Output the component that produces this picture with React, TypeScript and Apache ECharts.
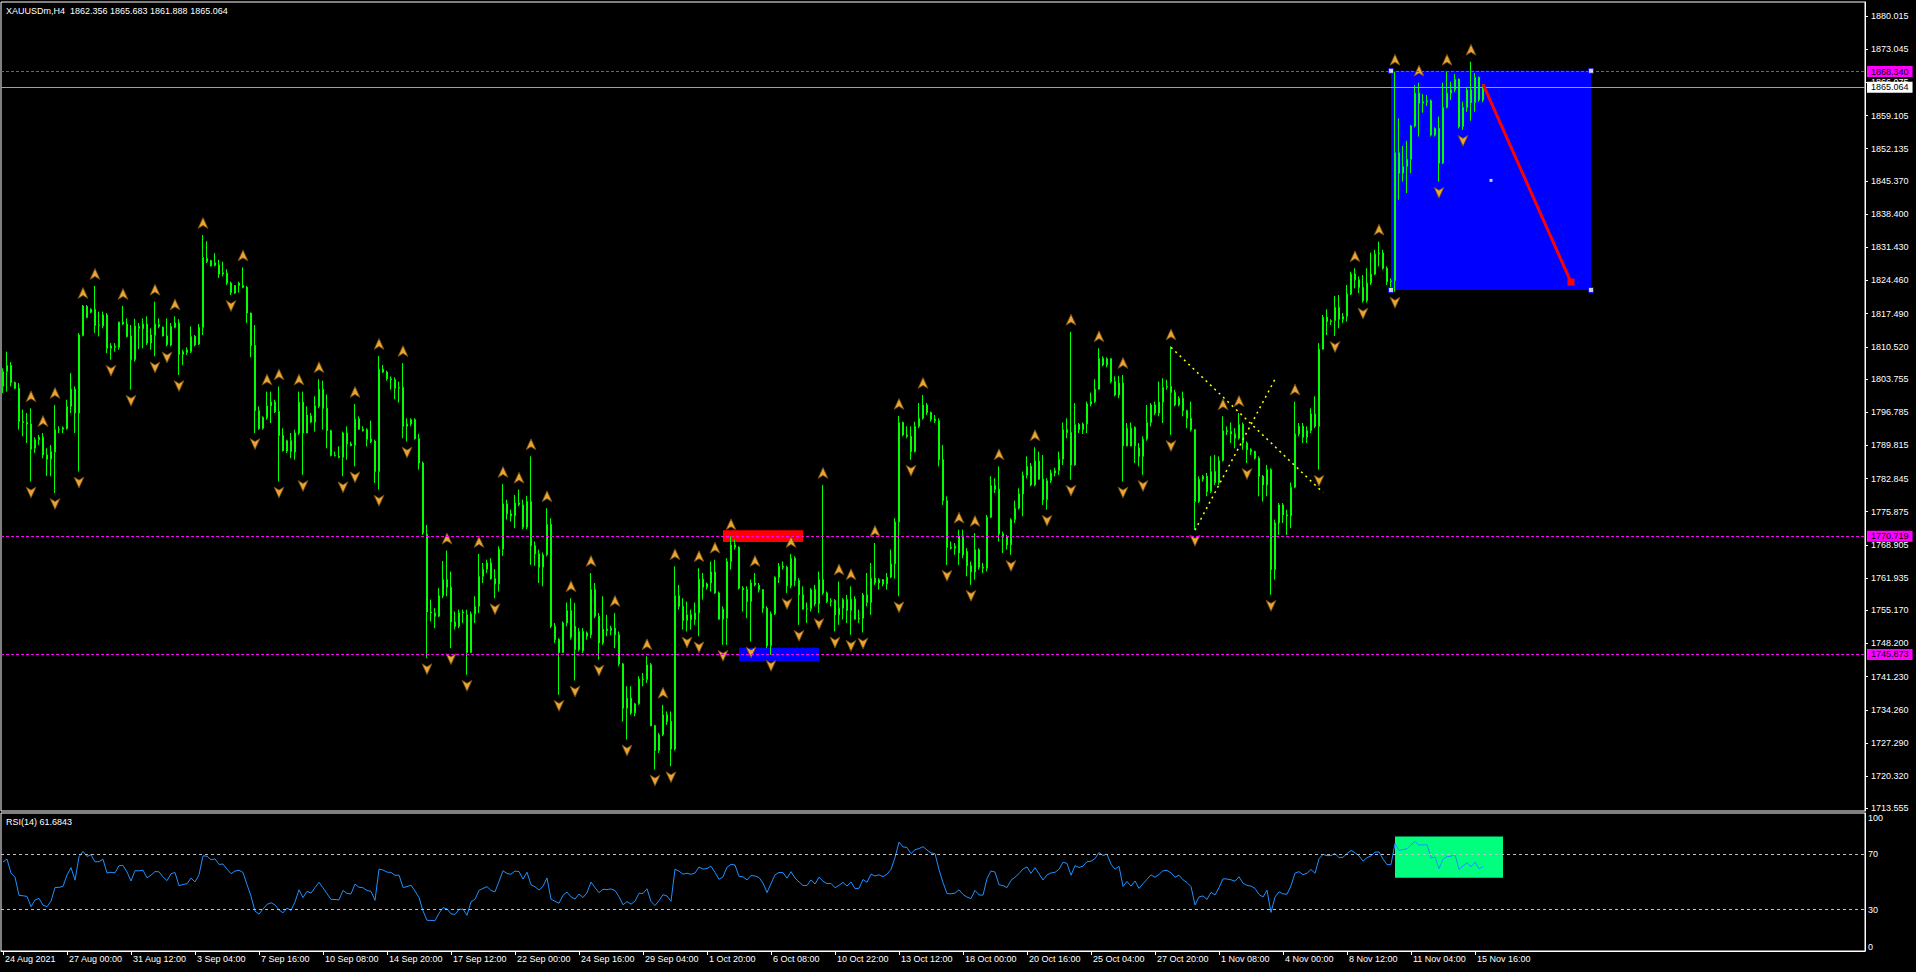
import React, { useEffect, useRef } from 'react';
import * as echarts from 'echarts';

const headerText = 'XAUUSDm,H4  1862.356 1865.683 1861.888 1865.064';
const rsiCaption = 'RSI(14) 61.6843';

const xTickLabels = [
  '24 Aug 2021', '27 Aug 00:00', '31 Aug 12:00', '3 Sep 04:00', '7 Sep 16:00', '10 Sep 08:00',
  '14 Sep 20:00', '17 Sep 12:00', '22 Sep 00:00', '24 Sep 16:00', '29 Sep 04:00', '1 Oct 20:00',
  '6 Oct 08:00', '10 Oct 22:00', '13 Oct 12:00', '18 Oct 00:00', '20 Oct 16:00', '25 Oct 04:00',
  '27 Oct 20:00', '1 Nov 08:00', '4 Nov 00:00', '8 Nov 12:00', '11 Nov 04:00', '15 Nov 16:00',
];
const barsPerTick = 16;
const totalSlots = 466;

const priceTicks = [
  1880.015, 1873.045, 1866.075, 1859.105, 1852.135, 1845.37, 1838.4, 1831.43, 1824.46, 1817.49,
  1810.52, 1803.755, 1796.785, 1789.815, 1782.845, 1775.875, 1768.905, 1761.935, 1755.17, 1748.2,
  1741.23, 1734.26, 1727.29, 1720.32, 1713.555,
];
const priceMin = 1712.99;
const priceMax = 1882.956;
const rsiTicks = [0, 30, 70, 100];
const rsiLevels = [70, 30];
const rsiPeriod = 14;
const rsiSeedGain = 1.0;
const rsiSeedLoss = 0.55;

// [open, high, low, close]
const ohlc: number[][] = [
  [1802.2, 1806.0, 1800.8, 1805.3], [1805.3, 1809.5, 1801.1, 1806.6], [1806.6, 1807.3, 1802.2, 1803.0],
  [1803.0, 1803.2, 1801.6, 1801.8], [1801.8, 1802.9, 1793.1, 1794.8], [1794.8, 1797.3, 1791.7, 1794.6],
  [1794.6, 1796.6, 1790.3, 1794.3], [1794.3, 1797.6, 1782.2, 1789.0], [1789.2, 1791.5, 1788.2, 1791.0],
  [1791.0, 1792.0, 1789.9, 1791.5], [1791.5, 1792.4, 1787.1, 1787.8], [1787.8, 1789.2, 1783.4, 1786.9],
  [1786.9, 1789.9, 1783.3, 1788.5], [1788.4, 1798.3, 1779.8, 1793.1], [1793.1, 1793.8, 1792.4, 1793.2],
  [1793.2, 1793.8, 1792.4, 1793.5], [1793.3, 1799.4, 1793.1, 1798.0], [1798.0, 1805.0, 1796.6, 1801.6],
  [1801.6, 1802.2, 1792.4, 1796.6], [1796.6, 1813.4, 1784.3, 1813.0], [1812.9, 1819.3, 1812.7, 1819.1],
  [1819.0, 1819.3, 1816.5, 1816.7], [1817.8, 1818.6, 1817.6, 1818.4], [1818.4, 1823.3, 1813.4, 1815.0],
  [1815.0, 1817.9, 1812.7, 1815.1], [1814.9, 1817.9, 1814.4, 1817.2], [1817.2, 1817.6, 1809.2, 1810.2],
  [1810.2, 1811.3, 1807.8, 1810.7], [1810.6, 1811.3, 1809.5, 1810.4], [1810.4, 1815.8, 1809.9, 1815.7],
  [1815.3, 1819.1, 1815.1, 1815.7], [1815.3, 1816.5, 1812.5, 1812.7], [1812.8, 1815.1, 1801.5, 1807.8],
  [1807.8, 1816.4, 1807.4, 1814.9], [1814.4, 1815.5, 1810.0, 1814.8], [1814.3, 1816.5, 1810.2, 1815.3],
  [1815.3, 1816.9, 1810.9, 1811.3], [1811.3, 1814.4, 1809.9, 1813.0], [1812.9, 1820.0, 1808.5, 1815.3],
  [1814.8, 1816.5, 1814.4, 1815.2], [1814.6, 1814.8, 1812.7, 1812.8], [1812.8, 1816.5, 1810.6, 1811.0],
  [1810.9, 1815.5, 1810.6, 1814.8], [1814.6, 1816.9, 1814.4, 1815.5], [1815.5, 1816.3, 1804.6, 1808.9],
  [1808.9, 1809.9, 1806.7, 1809.5], [1809.3, 1810.4, 1808.8, 1809.9], [1809.5, 1814.8, 1809.2, 1812.7],
  [1812.7, 1813.0, 1810.6, 1810.9], [1811.1, 1815.3, 1810.9, 1814.6], [1814.6, 1834.0, 1813.0, 1829.3],
  [1828.4, 1832.7, 1828.1, 1829.1], [1828.6, 1828.8, 1827.4, 1827.5], [1827.6, 1830.2, 1827.4, 1828.2],
  [1827.7, 1828.8, 1825.0, 1825.8], [1825.8, 1828.4, 1825.3, 1826.1], [1826.0, 1826.8, 1823.5, 1823.9],
  [1823.9, 1824.2, 1821.4, 1821.9], [1821.8, 1823.5, 1821.6, 1823.4], [1823.4, 1824.2, 1821.9, 1823.9],
  [1823.4, 1827.2, 1822.8, 1823.0], [1823.0, 1823.3, 1815.5, 1817.6], [1817.6, 1817.7, 1808.3, 1810.8],
  [1810.8, 1815.1, 1792.4, 1797.1], [1797.1, 1798.0, 1793.1, 1793.3], [1793.4, 1795.9, 1793.1, 1795.7],
  [1795.6, 1801.1, 1795.2, 1798.1], [1798.1, 1801.1, 1794.5, 1798.9], [1798.9, 1799.4, 1796.6, 1796.9],
  [1796.9, 1802.2, 1782.2, 1791.9], [1791.9, 1793.4, 1788.5, 1788.7], [1788.6, 1791.0, 1788.2, 1790.8],
  [1790.8, 1792.4, 1787.1, 1788.5], [1788.4, 1793.1, 1786.8, 1792.4], [1792.4, 1801.1, 1792.0, 1798.9],
  [1798.9, 1801.1, 1783.6, 1792.4], [1792.4, 1798.0, 1792.4, 1796.2], [1796.0, 1796.6, 1794.5, 1794.7],
  [1794.7, 1800.1, 1792.7, 1798.1], [1798.0, 1803.7, 1797.6, 1801.6], [1801.6, 1803.4, 1793.1, 1797.6],
  [1797.6, 1800.5, 1789.2, 1792.9], [1792.9, 1793.1, 1787.5, 1787.7], [1787.7, 1788.5, 1787.5, 1787.6],
  [1787.5, 1789.6, 1787.1, 1787.3], [1787.3, 1792.7, 1783.3, 1792.4], [1792.4, 1793.8, 1786.8, 1790.1],
  [1790.1, 1790.6, 1789.6, 1789.8], [1789.8, 1798.5, 1785.4, 1795.3], [1795.4, 1795.9, 1793.1, 1793.2],
  [1793.2, 1793.8, 1792.7, 1792.9], [1793.1, 1793.4, 1789.6, 1791.1], [1791.1, 1795.0, 1790.3, 1790.6],
  [1790.7, 1791.0, 1781.9, 1784.3], [1784.3, 1808.6, 1780.5, 1805.8], [1805.8, 1806.7, 1805.0, 1805.2],
  [1805.2, 1805.5, 1803.4, 1803.8], [1803.8, 1804.3, 1801.5, 1803.6], [1803.6, 1804.1, 1799.5, 1801.8],
  [1801.8, 1803.2, 1798.8, 1802.0], [1802.0, 1807.1, 1791.3, 1793.8], [1793.8, 1795.5, 1790.6, 1794.3],
  [1794.3, 1795.5, 1793.8, 1795.2], [1795.2, 1795.5, 1791.0, 1791.2], [1791.2, 1792.2, 1784.7, 1786.1],
  [1786.1, 1786.4, 1771.0, 1771.4], [1771.2, 1773.1, 1745.1, 1754.8], [1754.8, 1757.4, 1752.8, 1754.6],
  [1754.6, 1755.6, 1751.4, 1753.9], [1753.9, 1759.8, 1753.7, 1758.2], [1758.2, 1765.5, 1757.7, 1761.6],
  [1761.6, 1767.7, 1758.1, 1760.0], [1760.0, 1763.3, 1747.2, 1752.7], [1752.7, 1754.9, 1751.1, 1751.8],
  [1751.8, 1755.3, 1751.4, 1754.6], [1754.6, 1755.3, 1752.5, 1754.8], [1754.2, 1755.3, 1741.6, 1746.3],
  [1746.3, 1754.9, 1746.2, 1754.4], [1754.4, 1758.1, 1752.5, 1756.0], [1756.0, 1767.0, 1754.6, 1762.3],
  [1762.3, 1765.1, 1760.9, 1763.8], [1763.8, 1765.8, 1763.0, 1765.1], [1765.1, 1766.1, 1761.6, 1761.8],
  [1761.8, 1763.8, 1757.7, 1760.7], [1760.7, 1768.6, 1759.1, 1768.0], [1768.0, 1781.7, 1766.6, 1777.5],
  [1777.5, 1778.4, 1774.2, 1775.4], [1775.4, 1776.3, 1773.8, 1775.0], [1775.0, 1779.4, 1772.4, 1777.7],
  [1777.7, 1780.5, 1777.0, 1777.4], [1777.3, 1778.4, 1772.2, 1772.6], [1772.6, 1779.2, 1772.2, 1778.0],
  [1778.0, 1787.5, 1764.7, 1768.7], [1768.7, 1769.6, 1764.5, 1767.0], [1767.0, 1767.9, 1760.9, 1764.2],
  [1764.2, 1767.3, 1760.2, 1766.8], [1766.8, 1776.6, 1766.5, 1773.2], [1773.2, 1774.5, 1751.4, 1751.8],
  [1751.8, 1752.5, 1748.3, 1749.0], [1749.0, 1749.3, 1737.4, 1746.3], [1746.3, 1752.8, 1746.2, 1752.5],
  [1752.5, 1756.8, 1751.8, 1755.1], [1755.1, 1757.7, 1749.0, 1749.5], [1751.8, 1756.7, 1740.4, 1746.9],
  [1746.9, 1751.4, 1746.5, 1750.7], [1750.7, 1751.4, 1746.2, 1746.7], [1749.7, 1750.7, 1749.0, 1750.4],
  [1750.0, 1763.0, 1749.3, 1759.5], [1759.5, 1760.9, 1753.5, 1753.9], [1753.9, 1754.6, 1744.8, 1748.3],
  [1748.3, 1758.1, 1747.9, 1751.2], [1751.2, 1754.2, 1749.7, 1750.9], [1750.9, 1751.9, 1749.9, 1751.4],
  [1751.4, 1754.6, 1747.2, 1750.0], [1750.0, 1750.7, 1743.4, 1743.9], [1743.9, 1744.1, 1731.8, 1734.6],
  [1734.6, 1739.2, 1728.0, 1736.7], [1736.7, 1739.2, 1733.2, 1733.6], [1733.6, 1735.7, 1732.9, 1735.5],
  [1735.5, 1741.3, 1735.3, 1740.7], [1740.7, 1742.0, 1739.2, 1740.6], [1740.6, 1745.5, 1739.9, 1743.7],
  [1743.7, 1744.1, 1730.8, 1730.9], [1730.9, 1731.1, 1721.7, 1725.7], [1725.7, 1729.4, 1725.2, 1729.0],
  [1729.0, 1735.3, 1728.7, 1733.2], [1733.2, 1733.9, 1731.1, 1731.8], [1731.8, 1733.9, 1722.4, 1726.0],
  [1726.0, 1764.4, 1725.7, 1758.2], [1758.2, 1760.5, 1755.3, 1756.0], [1756.0, 1757.7, 1751.1, 1753.0],
  [1753.0, 1757.0, 1750.7, 1754.2], [1754.2, 1755.3, 1751.1, 1753.2], [1753.2, 1756.8, 1752.1, 1754.6],
  [1754.6, 1764.0, 1749.7, 1761.7], [1761.7, 1763.0, 1757.4, 1760.0], [1760.0, 1761.0, 1759.5, 1760.7],
  [1760.9, 1765.4, 1759.1, 1763.2], [1763.2, 1765.8, 1758.6, 1758.8], [1758.8, 1759.1, 1753.2, 1753.3],
  [1753.3, 1756.0, 1747.9, 1755.4], [1753.5, 1766.1, 1747.9, 1765.4], [1765.4, 1770.7, 1763.7, 1768.9],
  [1768.9, 1770.0, 1767.9, 1768.4], [1768.4, 1768.6, 1759.5, 1759.8], [1759.8, 1760.2, 1754.9, 1759.5],
  [1759.5, 1760.2, 1753.5, 1757.0], [1757.0, 1761.6, 1748.6, 1760.9], [1760.9, 1763.0, 1760.2, 1760.5],
  [1760.4, 1760.9, 1758.9, 1759.5], [1759.5, 1759.5, 1754.6, 1755.6], [1755.6, 1756.0, 1747.2, 1747.7],
  [1747.7, 1754.9, 1745.8, 1754.4], [1754.4, 1762.3, 1754.2, 1762.1], [1762.1, 1765.1, 1760.9, 1764.4],
  [1764.4, 1765.4, 1763.7, 1764.2], [1764.2, 1764.5, 1758.8, 1760.3], [1760.3, 1767.0, 1759.8, 1766.1],
  [1766.1, 1766.5, 1760.2, 1761.4], [1761.4, 1761.9, 1752.1, 1758.4], [1758.4, 1760.2, 1755.3, 1755.4],
  [1755.4, 1756.8, 1752.5, 1755.5], [1755.5, 1759.8, 1754.9, 1759.5], [1759.5, 1760.5, 1756.0, 1756.5],
  [1756.5, 1763.3, 1754.6, 1761.6], [1761.6, 1781.5, 1758.4, 1758.8], [1758.8, 1759.1, 1756.7, 1757.0],
  [1757.0, 1757.7, 1756.0, 1757.2], [1757.2, 1757.5, 1750.7, 1754.2], [1754.2, 1761.2, 1752.1, 1755.6],
  [1755.6, 1757.7, 1753.2, 1757.4], [1757.4, 1758.4, 1752.5, 1755.1], [1755.1, 1760.2, 1750.0, 1757.5],
  [1757.5, 1758.1, 1753.2, 1753.3], [1753.3, 1755.3, 1752.5, 1753.5], [1753.5, 1758.8, 1750.5, 1758.4],
  [1758.4, 1763.0, 1756.0, 1756.8], [1756.8, 1765.1, 1754.2, 1761.9], [1761.9, 1769.3, 1760.5, 1760.9],
  [1760.9, 1761.9, 1759.5, 1761.6], [1761.6, 1761.7, 1760.2, 1760.7], [1760.7, 1763.0, 1759.5, 1762.1],
  [1762.1, 1767.9, 1761.9, 1764.9], [1764.9, 1774.5, 1761.8, 1773.7], [1773.7, 1796.0, 1758.1, 1794.6],
  [1794.6, 1794.8, 1791.7, 1792.0], [1792.0, 1793.8, 1791.3, 1791.7], [1791.7, 1793.8, 1786.8, 1788.5],
  [1788.5, 1794.8, 1788.3, 1793.8], [1793.8, 1798.7, 1793.4, 1795.5], [1795.5, 1800.4, 1795.2, 1798.3],
  [1798.3, 1798.7, 1796.2, 1796.7], [1796.7, 1796.9, 1794.8, 1795.3], [1795.3, 1796.2, 1794.5, 1795.0],
  [1795.0, 1795.5, 1785.4, 1786.8], [1786.8, 1789.9, 1777.3, 1778.2], [1778.2, 1779.1, 1764.7, 1768.4],
  [1768.4, 1769.6, 1767.9, 1768.2], [1768.2, 1769.3, 1766.8, 1768.6], [1767.2, 1772.1, 1764.7, 1770.8],
  [1770.8, 1772.1, 1766.1, 1766.8], [1767.5, 1768.2, 1762.3, 1764.5], [1764.5, 1765.4, 1760.5, 1763.2],
  [1763.2, 1771.4, 1761.6, 1767.9], [1767.9, 1768.2, 1763.7, 1764.2], [1764.2, 1765.1, 1763.0, 1764.0],
  [1764.0, 1775.2, 1763.3, 1774.7], [1774.7, 1783.3, 1774.5, 1781.4], [1781.4, 1782.9, 1779.8, 1780.6],
  [1780.6, 1785.4, 1769.6, 1771.2], [1771.2, 1771.7, 1767.2, 1770.5], [1770.5, 1771.0, 1767.9, 1768.9],
  [1768.9, 1774.5, 1766.8, 1774.2], [1774.2, 1778.2, 1773.5, 1776.6], [1776.6, 1780.8, 1776.3, 1779.6],
  [1779.6, 1784.3, 1774.9, 1783.5], [1783.5, 1787.5, 1782.9, 1785.4], [1785.4, 1786.1, 1781.2, 1781.5],
  [1781.5, 1789.4, 1781.2, 1786.5], [1786.5, 1788.5, 1782.6, 1782.7], [1782.7, 1787.8, 1777.3, 1778.4],
  [1778.4, 1782.9, 1776.3, 1782.4], [1782.4, 1784.7, 1781.9, 1784.0], [1784.0, 1785.1, 1783.3, 1784.5],
  [1784.5, 1788.5, 1783.6, 1786.9], [1786.9, 1794.6, 1785.7, 1793.1], [1793.1, 1795.5, 1791.3, 1792.5],
  [1792.5, 1813.7, 1782.6, 1785.7], [1785.7, 1798.7, 1785.5, 1794.2], [1794.2, 1794.5, 1792.4, 1793.1],
  [1793.1, 1794.6, 1792.2, 1794.3], [1794.3, 1799.0, 1792.4, 1798.5], [1798.5, 1800.9, 1798.0, 1799.0],
  [1799.0, 1803.7, 1798.7, 1801.6], [1801.6, 1810.2, 1801.5, 1808.1], [1808.1, 1808.5, 1806.4, 1806.7],
  [1806.7, 1808.3, 1806.2, 1808.0], [1808.0, 1808.1, 1802.9, 1803.2], [1803.2, 1804.3, 1800.1, 1800.4],
  [1800.4, 1804.4, 1799.7, 1802.9], [1802.9, 1804.6, 1782.2, 1789.7], [1789.7, 1794.5, 1789.6, 1793.4],
  [1793.4, 1794.6, 1789.6, 1789.7], [1789.7, 1793.8, 1786.1, 1793.6], [1789.2, 1790.3, 1785.4, 1787.5],
  [1787.5, 1791.7, 1783.6, 1791.1], [1791.1, 1798.3, 1790.8, 1794.6], [1794.6, 1798.7, 1793.8, 1798.3],
  [1798.3, 1799.0, 1796.2, 1796.6], [1796.6, 1803.2, 1795.9, 1798.9], [1798.9, 1803.9, 1794.5, 1802.0],
  [1802.0, 1803.6, 1801.5, 1802.2], [1802.2, 1810.6, 1792.0, 1800.9], [1800.9, 1801.5, 1798.0, 1798.3],
  [1798.3, 1800.1, 1798.0, 1799.7], [1799.7, 1801.1, 1795.9, 1797.1], [1797.1, 1797.3, 1793.4, 1795.5],
  [1795.5, 1799.0, 1792.7, 1793.1], [1793.1, 1793.2, 1772.1, 1778.0], [1778.0, 1783.3, 1777.7, 1782.7],
  [1782.7, 1783.6, 1782.2, 1783.3], [1783.3, 1784.0, 1779.1, 1780.1], [1780.1, 1787.5, 1779.8, 1784.3],
  [1784.3, 1787.8, 1781.5, 1782.0], [1782.0, 1787.5, 1781.5, 1786.6], [1786.6, 1795.9, 1786.4, 1792.9],
  [1792.9, 1793.8, 1792.0, 1792.7], [1792.7, 1794.6, 1790.3, 1792.2], [1792.2, 1793.4, 1789.2, 1791.3],
  [1791.3, 1796.6, 1791.0, 1794.2], [1794.2, 1794.6, 1788.9, 1790.3], [1790.3, 1790.6, 1786.1, 1788.9],
  [1788.9, 1789.2, 1787.8, 1788.5], [1788.5, 1788.7, 1786.8, 1787.1], [1787.1, 1787.5, 1779.1, 1783.3],
  [1783.3, 1783.6, 1778.0, 1781.5], [1781.5, 1785.7, 1779.1, 1784.7], [1784.7, 1785.0, 1758.4, 1763.7],
  [1763.7, 1774.2, 1761.6, 1773.5], [1773.5, 1777.7, 1771.0, 1777.3], [1777.3, 1777.7, 1773.5, 1775.2],
  [1775.2, 1776.3, 1771.0, 1775.0], [1775.0, 1782.0, 1772.4, 1781.0], [1781.0, 1799.0, 1780.8, 1792.2],
  [1792.2, 1794.5, 1791.7, 1793.8], [1793.8, 1794.5, 1790.3, 1791.5], [1791.5, 1793.8, 1790.3, 1792.9],
  [1792.9, 1797.6, 1792.4, 1796.4], [1796.4, 1800.1, 1793.4, 1793.8], [1793.8, 1811.3, 1784.7, 1810.0],
  [1810.0, 1817.2, 1809.9, 1816.7], [1816.7, 1818.4, 1813.0, 1815.8], [1815.8, 1816.3, 1815.1, 1816.0],
  [1816.0, 1821.2, 1812.8, 1818.8], [1818.8, 1821.4, 1814.4, 1816.3], [1816.3, 1817.6, 1815.5, 1816.9],
  [1816.9, 1823.5, 1815.8, 1821.6], [1821.6, 1826.3, 1821.4, 1825.8], [1825.8, 1827.0, 1822.8, 1824.6],
  [1824.6, 1825.3, 1821.8, 1823.0], [1823.0, 1825.6, 1819.8, 1820.2], [1820.2, 1827.0, 1819.8, 1823.9],
  [1823.9, 1830.3, 1823.5, 1825.8], [1825.8, 1830.9, 1825.6, 1830.0], [1830.0, 1832.6, 1827.4, 1830.2],
  [1830.2, 1830.9, 1826.7, 1827.0], [1827.0, 1827.4, 1823.5, 1824.2], [1824.2, 1824.9, 1822.5, 1824.4],
  [1824.4, 1868.3, 1822.1, 1851.3], [1851.3, 1858.5, 1841.4, 1847.0], [1847.0, 1852.7, 1845.2, 1848.4],
  [1848.4, 1853.8, 1842.8, 1849.9], [1849.9, 1857.1, 1847.0, 1856.9], [1856.9, 1865.5, 1856.6, 1863.8],
  [1863.8, 1866.0, 1854.7, 1861.7], [1861.7, 1863.6, 1859.7, 1862.0], [1862.0, 1863.4, 1861.1, 1862.2],
  [1862.2, 1862.5, 1854.7, 1855.0], [1855.0, 1856.6, 1854.7, 1856.4], [1856.4, 1858.9, 1845.2, 1849.1],
  [1849.1, 1866.0, 1848.9, 1860.8], [1860.8, 1868.3, 1860.6, 1863.8], [1863.8, 1866.2, 1862.4, 1864.5],
  [1864.5, 1867.8, 1864.0, 1866.7], [1866.7, 1866.9, 1856.4, 1856.8], [1856.8, 1862.0, 1856.1, 1860.8],
  [1860.8, 1865.0, 1859.9, 1864.5], [1864.5, 1870.4, 1858.0, 1861.8], [1861.8, 1868.0, 1859.9, 1867.1],
  [1867.1, 1867.3, 1862.0, 1862.4], [1862.356, 1865.683, 1861.888, 1865.064],
];

const levelPrices = [1868.34, 1770.719, 1745.873];
const bidPrice = 1865.064;

// drawn objects, in [bar index, price] / [bar index, rsi]
const bigBox = { fromBar: 347, toBar: 397, top: 1868.5, bottom: 1822.45 };
const redZone = { fromBar: 180, toBar: 200, top: 1772.0, bottom: 1769.5 };
const blueZone = { fromBar: 184, toBar: 204, top: 1747.3, bottom: 1744.5 };
const redTrend = [[370, 1865.7], [381, 1844.9], [392, 1824.1]];
const yellowLineA = [[292, 1810.4], [330, 1779.9]];
const yellowLineB = [[298, 1772.0], [318, 1803.7]];
const rsiBox = { fromBar: 348, toBar: 375, top: 83, bottom: 53 };

const FONT = 'Liberation Sans';

export default function App() {
  const ref = useRef<HTMLDivElement>(null);

  useEffect(() => {
    if (!ref.current) return;
    const chart = echarts.init(ref.current, null, { renderer: 'svg' });

    const categories = Array.from({ length: totalSlots }, (_, i) => String(i));
    const candleData = ohlc.map(([o, h, l, c]) => [o, c, l, h]);

    const closes = ohlc.map((r) => r[3]);
    const rsi: number[] = [];
    let ag = rsiSeedGain;
    let al = rsiSeedLoss;
    for (let i = 0; i < closes.length; i++) {
      if (i > 0) {
        const d = closes[i] - closes[i - 1];
        ag = (ag * (rsiPeriod - 1) + Math.max(d, 0)) / rsiPeriod;
        al = (al * (rsiPeriod - 1) + Math.max(-d, 0)) / rsiPeriod;
      }
      rsi.push(al === 0 ? 100 : 100 - 100 / (1 + ag / al));
    }

    const ups: number[][] = [];
    const downs: number[][] = [];
    for (let i = 2; i < ohlc.length - 2; i++) {
      const h = ohlc[i][1];
      if (h > ohlc[i - 1][1] && h > ohlc[i - 2][1] && h >= ohlc[i + 1][1] && h >= ohlc[i + 2][1]) ups.push([i, h]);
      const l = ohlc[i][2];
      if (l < ohlc[i - 1][2] && l < ohlc[i - 2][2] && l <= ohlc[i + 1][2] && l <= ohlc[i + 2][2]) downs.push([i, l]);
    }

    const showTick = (idx: number) => idx % barsPerTick === 0 && idx / barsPerTick < xTickLabels.length;

    const boxHandles = [
      [bigBox.fromBar, bigBox.top], [bigBox.toBar, bigBox.top],
      [bigBox.fromBar, bigBox.bottom], [bigBox.toBar, bigBox.bottom],
    ];
    const boxCenter = [[(bigBox.fromBar + bigBox.toBar) / 2, (bigBox.top + bigBox.bottom) / 2]];

    const priceLabel = (bg: string, value: number) => ({
      show: true,
      position: 'end',
      distance: 2,
      formatter: () => value.toFixed(3),
      backgroundColor: bg,
      color: '#000',
      fontFamily: FONT,
      fontSize: 9,
      padding: [1, 4, 1, 4],
    });

    const option: any = {
      animation: false,
      backgroundColor: '#000',
      textStyle: { fontFamily: FONT, fontSize: 9, color: '#fff' },
      grid: [
        { left: 1, top: 2, width: 1864, height: 809, show: true, borderColor: '#fff', borderWidth: 1, backgroundColor: 'transparent' },
        { left: 1, top: 813, width: 1864, height: 138, show: true, borderColor: '#fff', borderWidth: 1, backgroundColor: 'transparent' },
      ],
      xAxis: [
        { type: 'category', gridIndex: 0, data: categories, boundaryGap: true, show: false },
        {
          type: 'category', gridIndex: 1, data: categories, boundaryGap: true,
          axisLine: { show: true, lineStyle: { color: '#fff', width: 1 } },
          axisTick: { show: true, alignWithLabel: true, interval: (idx: number) => showTick(idx), length: 4, lineStyle: { color: '#fff' } },
          axisLabel: {
            show: true, interval: (idx: number) => showTick(idx),
            formatter: (_v: string, idx: number) => xTickLabels[idx / barsPerTick] ?? '',
            color: '#fff', fontFamily: FONT, fontSize: 9, align: 'left', margin: 3, padding: [0, 0, 0, 2],
          },
          splitLine: { show: false },
        },
      ],
      yAxis: [
        {
          type: 'value', gridIndex: 0, position: 'right', min: priceMin, max: priceMax,
          axisLine: { show: true, lineStyle: { color: '#fff' } },
          axisTick: { show: true, length: 3, customValues: priceTicks, lineStyle: { color: '#fff' } },
          axisLabel: { customValues: priceTicks, formatter: (v: number) => v.toFixed(3), color: '#fff', fontFamily: FONT, fontSize: 9, margin: 6 },
          splitLine: { show: false },
        },
        {
          type: 'value', gridIndex: 1, position: 'right', min: 0, max: 100,
          axisLine: { show: true, lineStyle: { color: '#fff' } },
          axisTick: { show: false },
          axisLabel: {
            customValues: rsiTicks, color: '#fff', fontFamily: FONT, fontSize: 9, margin: 3,
            verticalAlignMaxLabel: 'top', verticalAlignMinLabel: 'bottom',
          },
          splitLine: { show: false },
        },
      ],
      series: [
        {
          name: 'box', type: 'line', xAxisIndex: 0, yAxisIndex: 0, data: [], z: 1, silent: true,
          markArea: {
            silent: true,
            itemStyle: { color: '#0000FF', opacity: 1 },
            data: [[{ xAxis: bigBox.fromBar, yAxis: bigBox.top }, { xAxis: bigBox.toBar, yAxis: bigBox.bottom }]],
          },
        },
        {
          name: 'XAUUSDm', type: 'candlestick', xAxisIndex: 0, yAxisIndex: 0, data: candleData, z: 2,
          barWidth: 2,
          itemStyle: { color: '#000000', color0: '#FFFFFF', borderColor: '#00FF00', borderColor0: '#00FF00', borderWidth: 1 },
          markLine: {
            silent: true, symbol: ['none', 'none'], animation: false,
            data: [
              ...levelPrices.map((p) => ({
                yAxis: p,
                lineStyle: { color: '#FF00FF', type: [3, 2], width: 1 },
                label: priceLabel('#FF00FF', p),
              })),
              {
                yAxis: bidPrice,
                lineStyle: { color: '#A0A0A0', type: 'solid', width: 1 },
                label: priceLabel('#FFFFFF', bidPrice),
              },
            ],
          },
        },
        {
          name: 'zones', type: 'line', xAxisIndex: 0, yAxisIndex: 0, data: [], z: 3, silent: true,
          markArea: {
            silent: true,
            data: [
              [{ xAxis: redZone.fromBar, yAxis: redZone.top, itemStyle: { color: '#FF0000', opacity: 1 } }, { xAxis: redZone.toBar, yAxis: redZone.bottom }],
              [{ xAxis: blueZone.fromBar, yAxis: blueZone.top, itemStyle: { color: '#0000FF', opacity: 1 } }, { xAxis: blueZone.toBar, yAxis: blueZone.bottom }],
            ],
          },
        },
        {
          name: 'fractalUp', type: 'scatter', xAxisIndex: 0, yAxisIndex: 0, data: ups, z: 4, silent: true,
          symbol: 'path://M5,0 L10,11 L5,8 L0,11 Z', symbolSize: [10, 11], symbolOffset: [0, -12],
          itemStyle: { color: '#E8A735', borderColor: '#6E4510', borderWidth: 0.8, opacity: 1 },
        },
        {
          name: 'fractalDown', type: 'scatter', xAxisIndex: 0, yAxisIndex: 0, data: downs, z: 4, silent: true,
          symbol: 'path://M0,0 L5,3 L10,0 L5,11 Z', symbolSize: [10, 11], symbolOffset: [0, 11],
          itemStyle: { color: '#E8A735', borderColor: '#6E4510', borderWidth: 0.8, opacity: 1 },
        },
        {
          name: 'trendA', type: 'line', xAxisIndex: 0, yAxisIndex: 0, data: yellowLineA, z: 4, symbol: 'none', silent: true,
          lineStyle: { color: '#FFFF00', type: [2, 4], width: 1.5 },
        },
        {
          name: 'trendB', type: 'line', xAxisIndex: 0, yAxisIndex: 0, data: yellowLineB, z: 4, symbol: 'none', silent: true,
          lineStyle: { color: '#FFFF00', type: [2, 4], width: 1.5 },
        },
        {
          name: 'redTrend', type: 'line', xAxisIndex: 0, yAxisIndex: 0, data: redTrend, z: 5, silent: true,
          symbol: 'rect', symbolSize: 7, showSymbol: true,
          itemStyle: { color: '#FF0000' },
          lineStyle: { color: '#FF0000', width: 3 },
        },
        {
          name: 'boxHandles', type: 'scatter', xAxisIndex: 0, yAxisIndex: 0, data: boxHandles, z: 5, silent: true,
          symbol: 'rect', symbolSize: 5, itemStyle: { color: '#FFFFFF', borderColor: '#0000FF', borderWidth: 1 },
        },
        {
          name: 'boxCenter', type: 'scatter', xAxisIndex: 0, yAxisIndex: 0, data: boxCenter, z: 5, silent: true,
          symbol: 'rect', symbolSize: 3, itemStyle: { color: '#FFFFFF' },
        },
        {
          name: 'RSI', type: 'line', xAxisIndex: 1, yAxisIndex: 1, data: rsi, z: 3, symbol: 'none', silent: true,
          lineStyle: { color: '#1E90FF', width: 1 },
          markLine: {
            silent: true, symbol: ['none', 'none'], label: { show: false },
            lineStyle: { color: '#C0C0C0', type: [3, 3], width: 1 },
            data: rsiLevels.map((v) => ({ yAxis: v })),
          },
          markArea: {
            silent: true,
            itemStyle: { color: '#00FF7F', opacity: 1 },
            data: [[{ xAxis: rsiBox.fromBar, yAxis: rsiBox.top }, { xAxis: rsiBox.toBar, yAxis: rsiBox.bottom }]],
          },
        },
      ],
      graphic: [
        { type: 'text', left: 6, top: 6, style: { text: headerText, fill: '#fff', font: `9px "${FONT}"` } },
        { type: 'text', left: 6, top: 817, style: { text: rsiCaption, fill: '#fff', font: `9px "${FONT}"` } },
      ],
    };

    chart.setOption(option);
    return () => chart.dispose();
  }, []);

  return (
    <div
      ref={ref}
      style={{ position: 'fixed', left: 0, top: 0, width: 1916, height: 972, background: '#000' }}
    />
  );
}
